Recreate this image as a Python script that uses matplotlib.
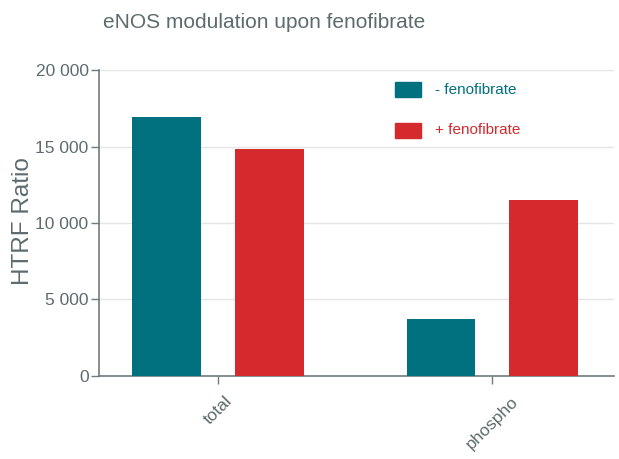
import matplotlib
matplotlib.use("Agg")
import matplotlib.pyplot as plt
import numpy as np
from matplotlib.ticker import FuncFormatter
from matplotlib.patches import Rectangle

categories = ["total", "phospho"]
series_names = ["- fenofibrate", "+ fenofibrate"]
minus_feno = [16950, 3700]
plus_feno = [14820, 11500]
y_ticks = [0, 5000, 10000, 15000, 20000]

teal = "#01707f"
red = "#d42a2e"
gray = "#5d6b6f"
fam = ["Liberation Sans", "DejaVu Sans"]
plt.rcParams['font.family'] = fam

fig = plt.figure(figsize=(6.19, 4.59), dpi=100)
ax = fig.add_axes([99/619, 1-375.5/459, (614-99)/619, (375.5-70.3)/459])

x = np.arange(len(categories))
w = 0.25
ax.bar(x - 0.187, minus_feno, width=w, color=teal, zorder=3)
ax.bar(x + 0.187, plus_feno, width=w, color=red, zorder=3)

ax.set_xlim(-0.433, 1.443)
ax.set_ylim(0, 20000)
ax.set_yticks(y_ticks)
ax.yaxis.set_major_formatter(FuncFormatter(lambda v, p: f"{int(v):,}".replace(",", " ")))
ax.grid(axis='y', color='#e5e5e5', linewidth=1, zorder=0)
ax.set_xticks(x)
ax.set_xticklabels(categories, rotation=45, ha='center', va='top')

for s in ['top', 'right']:
    ax.spines[s].set_visible(False)
for s in ['left', 'bottom']:
    ax.spines[s].set_color('#6f7b7e')
    ax.spines[s].set_linewidth(1.2)
ax.tick_params(axis='both', colors='#6f7b7e', labelcolor=gray, labelsize=12.5, length=6, width=1)
ax.tick_params(axis='x', pad=7)
ax.tick_params(axis='y', pad=1.5)

ax.set_ylabel("HTRF Ratio", fontsize=17.5, color=gray)
ax.yaxis.set_label_coords((34-99)/515, (375.5-221)/(375.5-70.3))

fig.text(264.5/619, 1-23/459, "eNOS modulation upon fenofibrate", ha='center', va='center',
         fontsize=15, color=gray)

# legend
for i, (name, col) in enumerate(zip(series_names, [teal, red])):
    yc = [89.5, 130][i]
    fig.patches.append(Rectangle((395/619, 1-(yc+7.5)/459), 26/619, 15/459,
                                 transform=fig.transFigure, color=col, figure=fig))
    fig.text(435/619, 1-yc/459, name, ha='left', va='center', fontsize=11, color=col)

fig.savefig("out.png", dpi=100)
